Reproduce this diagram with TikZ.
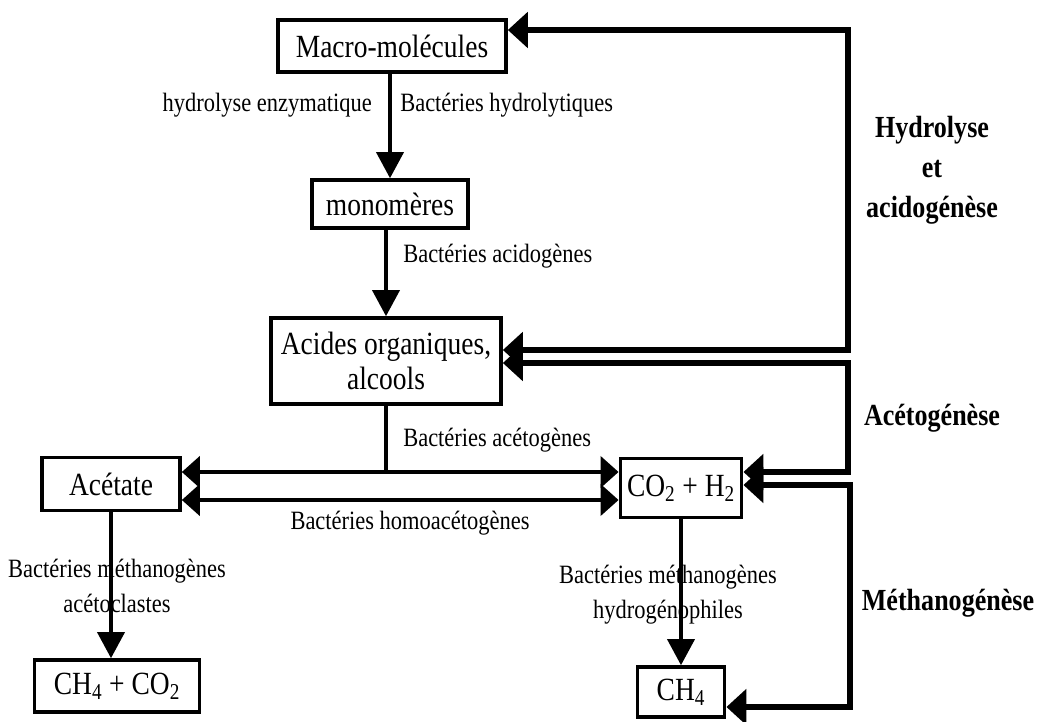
\documentclass[tikz,border=0pt]{standalone}
\usepackage{fontspec}
\setmainfont{Liberation Serif}[FakeStretch=0.85]
\usetikzlibrary{arrows.meta}

\begin{document}
\begin{tikzpicture}[x=0.025cm,y=-0.025cm,line join=miter,
  box/.style={draw,line width=2.6pt,inner sep=0pt,align=center,font=\fontsize{23}{25}\selectfont},
  lbl/.style={inner sep=0pt,align=center,font=\fontsize{18.8}{25}\selectfont},
  phase/.style={inner sep=0pt,align=center,font=\fontsize{21.8}{28.5}\selectfont\bfseries},
  flow/.style={line width=2.2pt,-{Triangle[length=0.65cm,width=0.68cm]}},
  hflow/.style={line width=2.6pt,{Triangle[length=0.45cm,width=0.78cm]}-{Triangle[length=0.45cm,width=0.78cm]}},
  back/.style={line width=3.6pt,{Triangle[length=0.5cm,width=0.88cm]}-{Triangle[length=0.5cm,width=0.88cm]}}]
\useasboundingbox (0,0) rectangle (1040,722);
% boxes
\node[box,minimum width=5.7cm,minimum height=1.3cm] (macro) at (392,46) {Macro-molécules};
\node[box,minimum width=3.9cm,minimum height=1.2cm] (mono) at (390,204) {monomères};
\node[box,minimum width=5.75cm,minimum height=2.15cm] (acides) at (386,361) {Acides organiques,\\alcools};
\node[box,minimum width=3.45cm,minimum height=1.33cm] (acetate) at (111,484) {Acétate};
\node[box,minimum width=3.03cm,minimum height=1.48cm] (co2) at (681,488) {CO\textsubscript{2} + H\textsubscript{2}};
\node[box,minimum width=4.13cm,minimum height=1.3cm] (ch4co2) at (117,686) {CH\textsubscript{4} + CO\textsubscript{2}};
\node[box,minimum width=2.18cm,minimum height=1.25cm] (ch4) at (681,692) {CH\textsubscript{4}};
% labels
\node[lbl,anchor=east] (lhydenz) at (372,105) {hydrolyse enzymatique};
\node[lbl,anchor=west] (lhyd) at (400,105) {Bactéries hydrolytiques};
\node[lbl,anchor=west] (lacid) at (403,256) {Bactéries acidogènes};
\node[lbl,anchor=west] (lacet) at (403,440) {Bactéries acétogènes};
\node[lbl] (lhomo) at (410,523) {Bactéries homoacétogènes};
\node[lbl] (lmacet) at (117,586) {Bactéries méthanogènes\\acétoclastes};
\node[lbl] (lmhyd) at (668,595) {Bactéries méthanogènes\\hydrogénophiles};
\node[phase] (ph1) at (932,170) {Hydrolyse\\et\\acidogénèse};
\node[phase] (ph2) at (932,418) {Acétogénèse};
\node[phase] (ph3) at (948,603) {Méthanogénèse};
% corners of the loops on the right
\coordinate (c1) at (848,30);
\coordinate (c2) at (848,350);
\coordinate (c3) at (848,363);
\coordinate (c4) at (848,472);
\coordinate (c5) at (850,485);
\coordinate (c6) at (850,707);
\coordinate (r2) at (400,500);
% main chain
\draw[flow] (macro.south -| mono.north) -- (mono.north);
\draw[flow] (mono.south -| acides.north) -- (acides.north);
\draw[line width=2.2pt] (acides.south) -- (acides.south |- c4);
\draw[hflow] (acetate.east |- c4) -- (co2.west |- c4);
\draw[hflow] (acetate.east |- r2) -- (co2.west |- r2);
\draw[flow] (acetate.south) -- (acetate.south |- ch4co2.north);
\draw[flow] (co2.south) -- (ch4.north);
% loops
\draw[back] (macro.east |- c1) -- (c1) -- (c2) -- (acides.east |- c2);
\draw[back] (acides.east |- c3) -- (c3) -- (c4) -- (co2.east |- c4);
\draw[back] (co2.east |- c5) -- (c5) -- (c6) -- (ch4.east |- c6);
\end{tikzpicture}
\end{document}
